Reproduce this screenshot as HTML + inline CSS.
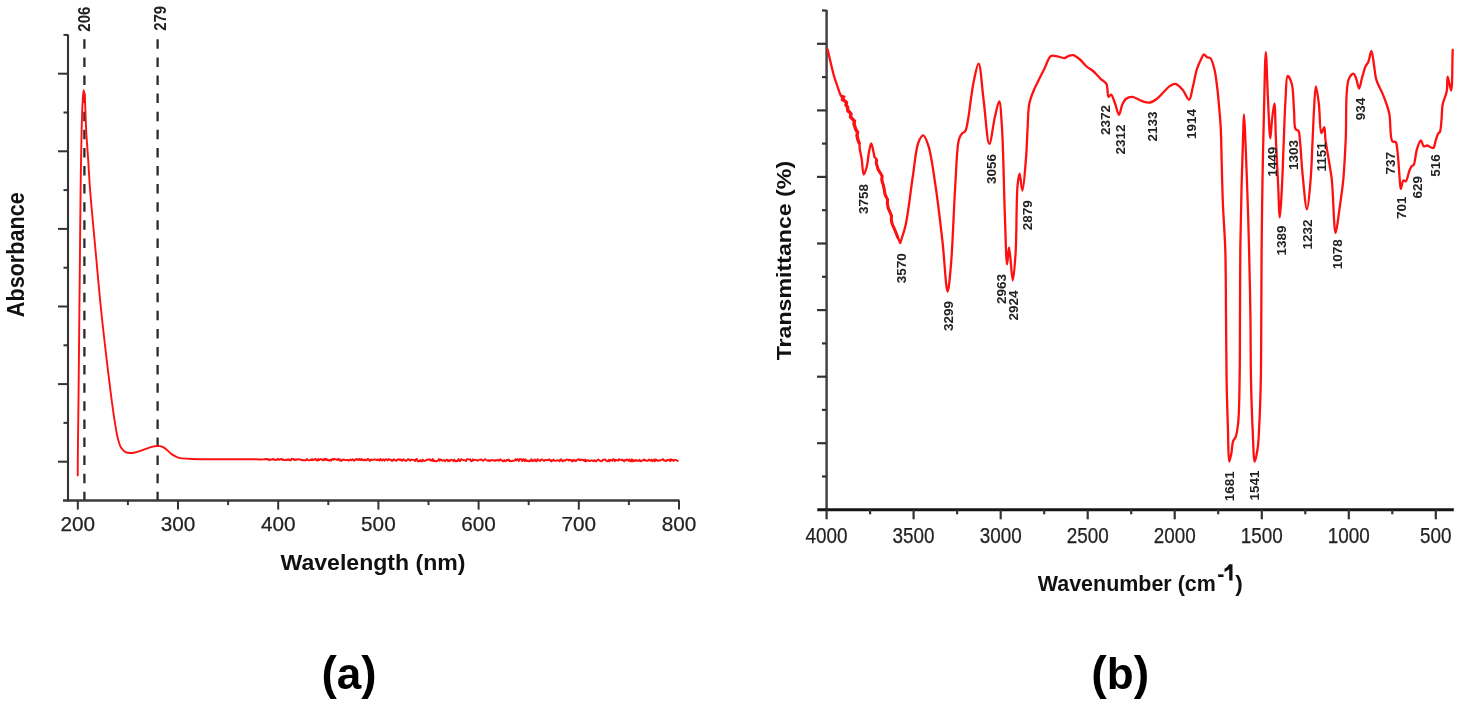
<!DOCTYPE html>
<html><head><meta charset="utf-8"><title>Spectra</title><style>
html,body{margin:0;padding:0;background:#fff;width:1459px;height:706px;overflow:hidden;}
svg{display:block;filter:blur(0.35px);}
text{font-family:"Liberation Sans",sans-serif;}
</style></head><body>
<svg width="1459" height="706" viewBox="0 0 1459 706">
<rect width="1459" height="706" fill="#fff"/>
<line x1="84.4" y1="39.3" x2="84.4" y2="500.6" stroke="#2a2a2a" stroke-width="2.3" stroke-dasharray="9.5 8.6"/>
<line x1="157.6" y1="39.3" x2="157.6" y2="500.6" stroke="#2a2a2a" stroke-width="2.3" stroke-dasharray="9.5 8.6"/>
<line x1="68.0" y1="34.5" x2="68.0" y2="501.6" stroke="#333" stroke-width="2.1"/>
<line x1="63" y1="500.6" x2="679.5" y2="500.6" stroke="#3a3a3a" stroke-width="2.5"/>
<line x1="58" y1="461.7" x2="68.0" y2="461.7" stroke="#333" stroke-width="2"/>
<line x1="63.5" y1="422.9" x2="68.0" y2="422.9" stroke="#333" stroke-width="2"/>
<line x1="58" y1="384.1" x2="68.0" y2="384.1" stroke="#333" stroke-width="2"/>
<line x1="63.5" y1="345.3" x2="68.0" y2="345.3" stroke="#333" stroke-width="2"/>
<line x1="58" y1="306.5" x2="68.0" y2="306.5" stroke="#333" stroke-width="2"/>
<line x1="63.5" y1="267.7" x2="68.0" y2="267.7" stroke="#333" stroke-width="2"/>
<line x1="58" y1="228.9" x2="68.0" y2="228.9" stroke="#333" stroke-width="2"/>
<line x1="63.5" y1="190.1" x2="68.0" y2="190.1" stroke="#333" stroke-width="2"/>
<line x1="58" y1="151.3" x2="68.0" y2="151.3" stroke="#333" stroke-width="2"/>
<line x1="63.5" y1="112.5" x2="68.0" y2="112.5" stroke="#333" stroke-width="2"/>
<line x1="58" y1="73.7" x2="68.0" y2="73.7" stroke="#333" stroke-width="2"/>
<line x1="63.5" y1="34.9" x2="68.0" y2="34.9" stroke="#333" stroke-width="2"/>
<line x1="77.8" y1="500.6" x2="77.8" y2="509.6" stroke="#333" stroke-width="2"/>
<text x="77.8" y="531" font-size="20.6" fill="#222" stroke="#222" stroke-width="0.25" text-anchor="middle" textLength="34.6" lengthAdjust="spacingAndGlyphs">200</text>
<line x1="127.9" y1="500.6" x2="127.9" y2="505.1" stroke="#333" stroke-width="2"/>
<line x1="178" y1="500.6" x2="178" y2="509.6" stroke="#333" stroke-width="2"/>
<text x="178" y="531" font-size="20.6" fill="#222" stroke="#222" stroke-width="0.25" text-anchor="middle" textLength="34.6" lengthAdjust="spacingAndGlyphs">300</text>
<line x1="228.1" y1="500.6" x2="228.1" y2="505.1" stroke="#333" stroke-width="2"/>
<line x1="278.2" y1="500.6" x2="278.2" y2="509.6" stroke="#333" stroke-width="2"/>
<text x="278.2" y="531" font-size="20.6" fill="#222" stroke="#222" stroke-width="0.25" text-anchor="middle" textLength="34.6" lengthAdjust="spacingAndGlyphs">400</text>
<line x1="328.3" y1="500.6" x2="328.3" y2="505.1" stroke="#333" stroke-width="2"/>
<line x1="378.4" y1="500.6" x2="378.4" y2="509.6" stroke="#333" stroke-width="2"/>
<text x="378.4" y="531" font-size="20.6" fill="#222" stroke="#222" stroke-width="0.25" text-anchor="middle" textLength="34.6" lengthAdjust="spacingAndGlyphs">500</text>
<line x1="428.5" y1="500.6" x2="428.5" y2="505.1" stroke="#333" stroke-width="2"/>
<line x1="478.6" y1="500.6" x2="478.6" y2="509.6" stroke="#333" stroke-width="2"/>
<text x="478.6" y="531" font-size="20.6" fill="#222" stroke="#222" stroke-width="0.25" text-anchor="middle" textLength="34.6" lengthAdjust="spacingAndGlyphs">600</text>
<line x1="528.7" y1="500.6" x2="528.7" y2="505.1" stroke="#333" stroke-width="2"/>
<line x1="578.8" y1="500.6" x2="578.8" y2="509.6" stroke="#333" stroke-width="2"/>
<text x="578.8" y="531" font-size="20.6" fill="#222" stroke="#222" stroke-width="0.25" text-anchor="middle" textLength="34.6" lengthAdjust="spacingAndGlyphs">700</text>
<line x1="628.9" y1="500.6" x2="628.9" y2="505.1" stroke="#333" stroke-width="2"/>
<line x1="679" y1="500.6" x2="679" y2="509.6" stroke="#333" stroke-width="2"/>
<text x="679" y="531" font-size="20.6" fill="#222" stroke="#222" stroke-width="0.25" text-anchor="middle" textLength="34.6" lengthAdjust="spacingAndGlyphs">800</text>
<text transform="translate(89.7,19.2) rotate(-90)" font-size="16" font-weight="bold" fill="#222" text-anchor="middle" textLength="25" lengthAdjust="spacingAndGlyphs">206</text>
<text transform="translate(165.7,18.3) rotate(-90)" font-size="16" font-weight="bold" fill="#222" text-anchor="middle" textLength="25" lengthAdjust="spacingAndGlyphs">279</text>
<text transform="translate(23.8,254.7) rotate(-90)" font-size="23" font-weight="bold" fill="#111" text-anchor="middle" textLength="125" lengthAdjust="spacingAndGlyphs">Absorbance</text>
<text x="373" y="570" font-size="22" font-weight="bold" fill="#111" text-anchor="middle" textLength="185" lengthAdjust="spacingAndGlyphs">Wavelength (nm)</text>
<text x="349" y="689" font-size="44" font-weight="bold" fill="#000" text-anchor="middle"><tspan font-size="46">(</tspan>a<tspan font-size="46">)</tspan></text>
<path d="M77.7,475.4C77.8,463.6 77.87,452.16 78,440C78.14,427.07 78.34,414.08 78.5,400C78.68,384.26 78.84,365.74 79,350C79.14,335.92 79.25,324.68 79.4,310C79.58,292.02 79.8,270 80,250C80.2,230 80.33,209.92 80.6,190C80.87,170.25 81.2,146.69 81.6,131C81.87,120.58 82.09,112.45 82.5,105C82.81,99.37 83.1,90.23 83.6,90.2C83.89,90.18 84.33,92.94 84.6,95C85.07,98.6 85.15,104.58 85.4,110C85.69,116.41 85.8,123.44 86.2,131C86.68,139.89 87.56,150.25 88.2,160C88.86,169.91 89.2,178.29 90.1,190C91.37,206.58 93.67,230 95.5,250C97.33,270 99.08,290.45 101.1,310C103.03,328.72 105.46,349.33 107.3,364.9C108.66,376.43 109.77,385.65 111,395C112.07,403.19 113.05,410.67 114.2,418C115.26,424.75 116.24,432.01 117.6,437.4C118.61,441.39 119.41,445.02 121,447.6C122.23,449.59 123.75,451.21 125.5,452.1C127.17,452.95 129.22,453.05 131.2,453C133.37,452.95 135.47,452.3 138,451.6C141.32,450.68 146.33,448.5 149.3,447.6C151.19,447.03 152.45,446.68 154,446.4C155.48,446.13 156.86,445.76 158.4,445.9C160.17,446.06 162.08,446.55 164,447.6C166.57,449 169.33,452.64 172,454.4C174.27,455.9 176.23,457.06 178.8,457.8C181.79,458.66 185.16,458.56 189,458.8C193.94,459.11 199.85,459.22 206,459.3C213.31,459.39 222,459.23 230,459.2 L232,459.1 L236,459.2 L240,459.2 L244,459.3 L248,459.3 L252,459.2 L256,459.2 L260,459.5 L264,459.3 L268,459 L268.9,460.2 L269.7,459.4 L270.6,459.9 L271.4,459.4 L272.3,459.6 L273.1,458.8 L274,459.6 L274.8,460 L275.7,459.5 L276.5,459.8 L277.4,459.7 L278.2,458.7 L279.1,459.9 L279.9,459.6 L280.8,459.1 L281.6,458.7 L282.5,460.1 L283.3,459.4 L284.2,459.8 L285,460.1 L285.9,459.8 L286.7,460.2 L287.6,459.3 L288.4,460 L289.3,459.4 L290.1,460.3 L291,460.2 L291.8,458.8 L292.7,458.9 L293.5,459 L294.4,460.3 L295.2,459.4 L296.1,459.8 L296.9,459.2 L297.8,459.6 L298.6,459.3 L299.5,459.3 L300.3,459.7 L301.2,459.7 L302,460.3 L302.9,459.9 L303.7,460.3 L304.6,460.2 L305.4,460.5 L306.3,459.9 L307.1,459 L308,460.2 L308.8,460.4 L309.7,460.3 L310.5,459.7 L311.4,460 L312.2,459.1 L313.1,460.2 L313.9,459.8 L314.8,459.2 L315.6,458.8 L316.5,460.3 L317.3,460.6 L318.2,458.9 L319,460.2 L319.9,459.5 L320.7,459 L321.6,459.3 L322.4,460.2 L323.3,460.4 L324.1,458.8 L325,459.9 L325.8,458.8 L326.7,460.1 L327.5,459.4 L328.4,460.4 L329.2,460.6 L330.1,459.7 L330.9,460.7 L331.8,459.3 L332.6,458.9 L333.5,459.9 L334.3,458.8 L335.2,459.1 L336,459.5 L336.9,460 L337.7,459.1 L338.6,458.8 L339.4,460.5 L340.3,459.4 L341.1,460.7 L342,460.6 L342.8,459.5 L343.7,459.7 L344.5,459.8 L345.4,460.1 L346.2,460 L347.1,459.9 L347.9,460 L348.8,460.7 L349.6,459.8 L350.5,459.7 L351.3,460.3 L352.2,459.3 L353,459.4 L353.9,460.8 L354.7,459.9 L355.6,459.9 L356.4,458.8 L357.3,459.7 L358.1,460 L359,458.8 L359.8,460.1 L360.7,460.1 L361.5,458.9 L362.4,460.1 L363.2,459.8 L364.1,460.3 L364.9,459.6 L365.8,460.3 L366.6,460.4 L367.5,458.9 L368.3,458.9 L369.2,460.3 L370,460.9 L370.9,459.4 L371.7,459.8 L372.6,460.1 L373.4,459.5 L374.3,459.6 L375.1,459.5 L376,459.6 L376.8,460.1 L377.7,459.5 L378.5,459.7 L379.4,460.5 L380.2,458.9 L381.1,460.1 L381.9,460.5 L382.8,459.5 L383.6,459.4 L384.5,460.7 L385.3,459.4 L386.2,459.3 L387,459.8 L387.9,460.4 L388.7,459.1 L389.6,459.6 L390.4,459.6 L391.3,460.8 L392.1,459.9 L393,460.8 L393.8,459.3 L394.7,459.6 L395.5,460.4 L396.4,460.9 L397.2,459.9 L398.1,459.4 L398.9,459.2 L399.8,460.1 L400.6,459.3 L401.5,460.8 L402.3,460.8 L403.2,459.3 L404,459.6 L404.9,460.8 L405.7,460.4 L406.6,460.8 L407.4,459.7 L408.3,459.2 L409.1,459.6 L410,460.8 L410.8,459.6 L411.7,459.7 L412.5,459.9 L413.4,459.9 L414.2,459.9 L415.1,461.1 L415.9,459.3 L416.8,458.9 L417.6,461.2 L418.5,461.1 L419.3,461.3 L420.2,460 L421,461.2 L421.9,461.2 L422.7,459.5 L423.6,460.8 L424.4,461 L425.3,460.6 L426.1,460.2 L427,459.7 L427.8,459.8 L428.7,459.5 L429.5,459.2 L430.4,460.4 L431.2,459.7 L432.1,461 L432.9,459.1 L433.8,461.2 L434.6,460.7 L435.5,461.2 L436.3,461.2 L437.2,461.2 L438,460.4 L438.9,459.1 L439.7,460.8 L440.6,459.5 L441.4,459.8 L442.3,460.7 L443.1,460.3 L444,460.1 L444.8,461.3 L445.7,460.5 L446.5,459.9 L447.4,459.7 L448.2,461.2 L449.1,460.2 L449.9,461 L450.8,459.9 L451.6,459.6 L452.5,460.4 L453.3,461.1 L454.2,459.5 L455,461 L455.9,461.3 L456.7,461 L457.6,461.1 L458.4,459.1 L459.3,460.6 L460.1,461.2 L461,459.2 L461.8,459.8 L462.7,459.7 L463.5,460.4 L464.4,460.1 L465.2,460.2 L466.1,461 L466.9,459.1 L467.8,459.2 L468.6,459.4 L469.5,459.4 L470.3,459.3 L471.2,461.4 L472,461.2 L472.9,459.3 L473.7,460.3 L474.6,459.9 L475.4,459.9 L476.3,459.9 L477.1,460.7 L478,460.5 L478.8,460 L479.7,459.6 L480.5,459.9 L481.4,459.4 L482.2,460.4 L483.1,460.8 L483.9,460 L484.8,459.3 L485.6,459.5 L486.5,460 L487.3,460.6 L488.2,461 L489,460 L489.9,461 L490.7,460.6 L491.6,460.1 L492.4,460 L493.3,460.3 L494.1,460.8 L495,460.1 L495.8,460.8 L496.7,460.2 L497.5,459.7 L498.4,460.4 L499.2,460.8 L500.1,459.3 L500.9,460.1 L501.8,460.1 L502.6,461.2 L503.5,461.3 L504.3,460 L505.2,461.3 L506,461 L506.9,459.7 L507.7,460.2 L508.6,459.4 L509.4,461.1 L510.3,460.7 L511.1,461.2 L512,461 L512.8,460.7 L513.7,460.9 L514.5,460.5 L515.4,459.3 L516.2,460.5 L517.1,459.1 L517.9,459.4 L518.8,461 L519.6,459.2 L520.5,459.3 L521.3,459.3 L522.2,461.2 L523,459.5 L523.9,459.2 L524.7,461.1 L525.6,459.4 L526.4,461.1 L527.3,460.7 L528.1,461.1 L529,461.4 L529.8,460.5 L530.7,461 L531.5,459.2 L532.4,460.9 L533.2,460.3 L534.1,460.8 L534.9,459.4 L535.8,460.9 L536.6,461.3 L537.5,459.2 L538.3,459.9 L539.2,460.5 L540,461.1 L540.9,459.7 L541.7,459.5 L542.6,459.7 L543.4,460.6 L544.3,460.9 L545.1,460 L546,460 L546.8,460.1 L547.7,459.9 L548.5,460.1 L549.4,459.3 L550.2,460.3 L551.1,461.4 L551.9,460.1 L552.8,460.9 L553.6,459.5 L554.5,460.8 L555.3,460.9 L556.2,460.7 L557,460.3 L557.9,460.3 L558.7,460.6 L559.6,461.3 L560.4,459.5 L561.3,459.3 L562.1,460.9 L563,461.3 L563.8,460.3 L564.7,460.2 L565.5,460.8 L566.4,459.5 L567.2,459.7 L568.1,459.6 L568.9,460.5 L569.8,459.9 L570.6,459.7 L571.5,460.8 L572.3,461.4 L573.2,459.8 L574,460.8 L574.9,460.1 L575.7,461.1 L576.6,460.5 L577.4,459.7 L578.3,459.6 L579.1,459.2 L580,460.3 L580.8,460 L581.7,459.5 L582.5,460 L583.4,459.9 L584.2,461 L585.1,459.4 L585.9,461.5 L586.8,460.3 L587.6,460.5 L588.5,460.2 L589.3,461.1 L590.2,461.1 L591,460.4 L591.9,460.3 L592.7,460.8 L593.6,461.2 L594.4,460.1 L595.3,460.9 L596.1,461.4 L597,460.2 L597.8,459.7 L598.7,459.7 L599.5,460.8 L600.4,460.7 L601.2,461.4 L602.1,461.1 L602.9,459.7 L603.8,459.6 L604.6,459.7 L605.5,459.5 L606.3,460.8 L607.2,461.2 L608,461.3 L608.9,459.7 L609.7,461.2 L610.6,459.9 L611.4,460.1 L612.3,460.8 L613.1,459.3 L614,459.3 L614.8,461.1 L615.7,459.8 L616.5,460 L617.4,460.5 L618.2,460.7 L619.1,459.1 L619.9,459.9 L620.8,460.1 L621.6,460.3 L622.5,459.6 L623.3,460.5 L624.2,461.4 L625,460 L625.9,460.4 L626.7,459.4 L627.6,459.8 L628.4,460.7 L629.3,459.4 L630.1,461.2 L631,461.3 L631.8,459.3 L632.7,461.4 L633.5,460 L634.4,461 L635.2,460.9 L636.1,459.8 L636.9,460.7 L637.8,460.7 L638.6,461 L639.5,459.7 L640.3,460.9 L641.2,461.4 L642,460.7 L642.9,460.4 L643.7,459.4 L644.6,460.3 L645.4,459.9 L646.3,460.8 L647.1,460.7 L648,460.5 L648.8,459.5 L649.7,460.6 L650.5,460.6 L651.4,459.5 L652.2,461.2 L653.1,460.7 L653.9,459.4 L654.8,461.3 L655.6,459.4 L656.5,459.9 L657.3,460.8 L658.2,460.5 L659,460.4 L659.9,460.7 L660.7,460.2 L661.6,459.8 L662.4,459.5 L663.3,459.3 L664.1,460.8 L665,460.9 L665.8,460.4 L666.7,460.9 L667.5,460 L668.4,459.7 L669.2,460 L670.1,461.2 L670.9,459.2 L671.8,460.3 L672.6,459.7 L673.5,460.9 L674.3,459.9 L675.2,459.9 L676,460.1 L676.9,460.4 L677.7,461" fill="none" stroke="#ff1010" stroke-width="1.9" stroke-linejoin="round" stroke-linecap="round"/>
<line x1="826.6" y1="10" x2="826.6" y2="510.8" stroke="#444" stroke-width="2.5"/>
<line x1="817.3" y1="509.8" x2="1453.8" y2="509.8" stroke="#151515" stroke-width="3"/>
<line x1="822" y1="476.5" x2="826.6" y2="476.5" stroke="#333" stroke-width="2.2"/>
<line x1="817" y1="443.2" x2="826.6" y2="443.2" stroke="#333" stroke-width="2.2"/>
<line x1="822" y1="409.9" x2="826.6" y2="409.9" stroke="#333" stroke-width="2.2"/>
<line x1="817" y1="376.7" x2="826.6" y2="376.7" stroke="#333" stroke-width="2.2"/>
<line x1="822" y1="343.4" x2="826.6" y2="343.4" stroke="#333" stroke-width="2.2"/>
<line x1="817" y1="310.1" x2="826.6" y2="310.1" stroke="#333" stroke-width="2.2"/>
<line x1="822" y1="276.8" x2="826.6" y2="276.8" stroke="#333" stroke-width="2.2"/>
<line x1="817" y1="243.5" x2="826.6" y2="243.5" stroke="#333" stroke-width="2.2"/>
<line x1="822" y1="210.2" x2="826.6" y2="210.2" stroke="#333" stroke-width="2.2"/>
<line x1="817" y1="176.9" x2="826.6" y2="176.9" stroke="#333" stroke-width="2.2"/>
<line x1="822" y1="143.6" x2="826.6" y2="143.6" stroke="#333" stroke-width="2.2"/>
<line x1="817" y1="110.4" x2="826.6" y2="110.4" stroke="#333" stroke-width="2.2"/>
<line x1="822" y1="77.1" x2="826.6" y2="77.1" stroke="#333" stroke-width="2.2"/>
<line x1="817" y1="43.8" x2="826.6" y2="43.8" stroke="#333" stroke-width="2.2"/>
<line x1="822" y1="10.5" x2="826.6" y2="10.5" stroke="#333" stroke-width="2.2"/>
<line x1="826.6" y1="509.8" x2="826.6" y2="519.3" stroke="#333" stroke-width="2.2"/>
<text x="826.6" y="542.8" font-size="21.8" fill="#222" stroke="#222" stroke-width="0.25" text-anchor="middle" textLength="42.0" lengthAdjust="spacingAndGlyphs">4000</text>
<line x1="870.1" y1="509.8" x2="870.1" y2="514.3" stroke="#333" stroke-width="2.2"/>
<line x1="913.6" y1="509.8" x2="913.6" y2="519.3" stroke="#333" stroke-width="2.2"/>
<text x="913.6" y="542.8" font-size="21.8" fill="#222" stroke="#222" stroke-width="0.25" text-anchor="middle" textLength="42.0" lengthAdjust="spacingAndGlyphs">3500</text>
<line x1="957.1" y1="509.8" x2="957.1" y2="514.3" stroke="#333" stroke-width="2.2"/>
<line x1="1000.7" y1="509.8" x2="1000.7" y2="519.3" stroke="#333" stroke-width="2.2"/>
<text x="1000.7" y="542.8" font-size="21.8" fill="#222" stroke="#222" stroke-width="0.25" text-anchor="middle" textLength="42.0" lengthAdjust="spacingAndGlyphs">3000</text>
<line x1="1044.2" y1="509.8" x2="1044.2" y2="514.3" stroke="#333" stroke-width="2.2"/>
<line x1="1087.7" y1="509.8" x2="1087.7" y2="519.3" stroke="#333" stroke-width="2.2"/>
<text x="1087.7" y="542.8" font-size="21.8" fill="#222" stroke="#222" stroke-width="0.25" text-anchor="middle" textLength="42.0" lengthAdjust="spacingAndGlyphs">2500</text>
<line x1="1131.2" y1="509.8" x2="1131.2" y2="514.3" stroke="#333" stroke-width="2.2"/>
<line x1="1174.7" y1="509.8" x2="1174.7" y2="519.3" stroke="#333" stroke-width="2.2"/>
<text x="1174.7" y="542.8" font-size="21.8" fill="#222" stroke="#222" stroke-width="0.25" text-anchor="middle" textLength="42.0" lengthAdjust="spacingAndGlyphs">2000</text>
<line x1="1218.2" y1="509.8" x2="1218.2" y2="514.3" stroke="#333" stroke-width="2.2"/>
<line x1="1261.8" y1="509.8" x2="1261.8" y2="519.3" stroke="#333" stroke-width="2.2"/>
<text x="1261.8" y="542.8" font-size="21.8" fill="#222" stroke="#222" stroke-width="0.25" text-anchor="middle" textLength="42.0" lengthAdjust="spacingAndGlyphs">1500</text>
<line x1="1305.3" y1="509.8" x2="1305.3" y2="514.3" stroke="#333" stroke-width="2.2"/>
<line x1="1348.8" y1="509.8" x2="1348.8" y2="519.3" stroke="#333" stroke-width="2.2"/>
<text x="1348.8" y="542.8" font-size="21.8" fill="#222" stroke="#222" stroke-width="0.25" text-anchor="middle" textLength="42.0" lengthAdjust="spacingAndGlyphs">1000</text>
<line x1="1392.3" y1="509.8" x2="1392.3" y2="514.3" stroke="#333" stroke-width="2.2"/>
<line x1="1435.8" y1="509.8" x2="1435.8" y2="519.3" stroke="#333" stroke-width="2.2"/>
<text x="1435.8" y="542.8" font-size="21.8" fill="#222" stroke="#222" stroke-width="0.25" text-anchor="middle" textLength="31.5" lengthAdjust="spacingAndGlyphs">500</text>
<text transform="translate(791.4,260.6) rotate(-90)" font-size="19.6" font-weight="bold" fill="#111" text-anchor="middle" textLength="199.5" lengthAdjust="spacingAndGlyphs">Transmittance (%)</text>
<text x="1037.8" y="590.8" font-size="22" font-weight="bold" fill="#111" textLength="178" lengthAdjust="spacingAndGlyphs">Wavenumber (cm</text>
<text x="1217.3" y="580.8" font-size="21.5" font-weight="bold" fill="#111">-</text>
<path d="M1229.2,564.3 h3.3 v16.2 h-3.3 v-11.3 q-2.1,1.9 -4.7,2.7 v-3.1 q2.9,-1.1 4.7,-4.5 z" fill="#111"/>
<text x="1235.3" y="591" font-size="22.5" font-weight="bold" fill="#111">)</text>
<text x="1120.3" y="689" font-size="44" font-weight="bold" fill="#000" text-anchor="middle"><tspan font-size="46.5">(</tspan>b<tspan font-size="46.5">)</tspan></text>
<path d="M827.6,49.5C828.57,53.67 829.48,57.74 830.5,62C831.57,66.47 832.71,71.6 833.9,75.7C834.89,79.12 835.98,81.96 837,85C837.98,87.92 838.93,90.73 839.9,93.6 L841,96 L843.5,97 L842.5,99.5 L845,101 L846.5,102.5 L846,105 L847.5,107 L848,111 L849.5,112 L851,114 L850.5,117 L852.5,119 L854.5,121 L854,124 L855,127 L856,130 L857.5,132 L857,136 L858,140 L859.5,144 L859.7,149.1C860.37,152.4 861.09,155.32 861.7,159C862.46,163.58 862.61,174.36 863.7,174.5C864.48,174.6 865.89,169.98 866.7,167C867.82,162.91 868.12,156.28 869,152C869.67,148.75 870.45,143.5 871.2,143.5C871.95,143.5 872.92,149.53 873.5,152C873.94,153.88 874.17,155.33 874.5,157 L876.7,159.5 L876.2,163 L878.2,169.6 L880,172.5 L882.1,176 L881.8,180 L883.7,186.7 L885.2,195 L887.6,199.5 L887.3,203 L888.3,208.5 L890,212 L891.5,216 L891.2,219.5 L892.2,224 L894,228 L896.1,233 L898,238 L900.3,243C902.1,236.9 904.02,232.32 905.7,224.7C908.38,212.52 910.51,191.16 912.8,176.5C914.72,164.17 915.64,149.44 918.4,142.5C919.78,139.04 921.65,135.31 923.2,135.4C924.97,135.51 926.76,140.74 928.3,145.3C931.24,153.98 933.21,170.56 935.4,185C938.01,202.19 940.42,223.4 942.5,241.7C944.45,258.83 946,291.48 947.6,291.5C948.79,291.51 949.98,275.83 951,264.4C952.75,244.9 953.78,207.77 955.3,185C956.45,167.79 956.66,147.75 958.9,139.7C959.77,136.56 960.75,134.97 962,133.5C962.94,132.39 964.33,132.49 965.2,131.2C966.71,128.97 967.16,124.15 968,119.8C969.09,114.13 969.8,106.61 970.8,100C971.8,93.35 972.61,86.29 974,80C975.27,74.25 977.23,63.61 978.6,63.7C980.62,63.84 981.9,87.32 983.6,100C985.46,113.93 987.14,143.82 989.3,143.9C991,143.96 993.03,124.73 994.9,117C996.33,111.07 998.08,101.31 999.2,101.4C1000.65,101.52 1001.21,116.81 1002,128.3C1003.39,148.68 1003.84,188.55 1004.8,213.3C1005.55,232.49 1006.09,264.36 1007.1,264.4C1007.68,264.42 1008.34,247.4 1009.1,247.4C1010.16,247.4 1011.68,280.51 1012.8,280.5C1013.82,280.49 1014.86,264.22 1015.6,253C1016.75,235.39 1016.26,198.1 1017.6,185C1018.15,179.62 1018.89,173.7 1019.6,173.7C1020.47,173.71 1021.49,190.72 1022.4,190.7C1023.68,190.66 1025.24,167.36 1026.1,156.7C1026.86,147.27 1026.95,138.9 1027.5,130C1028.05,121.1 1027.87,110.75 1029.4,103.3C1030.56,97.68 1032.67,93.08 1034.4,88.9C1035.79,85.53 1037.15,83.15 1038.7,80C1040.47,76.4 1042.51,72.4 1044.5,68.5C1046.57,64.44 1048.34,57.66 1050.9,56.1C1052.45,55.16 1054.09,55.89 1056,56.1C1058.51,56.37 1062.27,58.3 1064.6,58C1066.33,57.78 1067.42,56.28 1068.9,55.8C1070.32,55.34 1071.75,54.77 1073.3,55.1C1075.38,55.55 1077.93,57.74 1080,59.5C1082.18,61.35 1083.82,64.07 1086,66C1088.15,67.9 1091.05,69.35 1093,71C1094.58,72.34 1095.71,73.66 1097,75C1098.25,76.3 1099.21,77.56 1100.6,78.9C1102.26,80.51 1105.07,81.52 1106.4,83.9C1108.14,87.01 1107.16,96.42 1108.5,96.9C1109.17,97.14 1110.18,94.53 1111,94.7C1112.38,94.99 1113.74,100.19 1115,103.3C1116.43,106.82 1117.76,114.82 1119,114.8C1120.15,114.79 1120.9,107.62 1122.2,104.8C1123.25,102.53 1124.12,100.32 1125.8,99C1127.48,97.68 1129.92,96.79 1132.3,96.9C1135.3,97.04 1139.19,100.24 1142.3,101.2C1144.85,101.99 1147.15,102.92 1149.5,102.6C1151.96,102.26 1154.43,100.64 1156.7,99C1159.26,97.16 1161.62,94.06 1163.9,91.8C1165.93,89.78 1167.63,87.44 1169.7,86.1C1171.5,84.94 1173.48,83.6 1175.4,83.9C1177.77,84.27 1180.43,87.3 1182.6,89.7C1185.06,92.43 1187.43,99.94 1189.1,99.7C1190.83,99.45 1191.51,92.02 1192.7,87.5C1194.16,81.95 1195.3,74.02 1197,68.8C1198.28,64.85 1199.96,61.32 1201.3,58.7C1202.21,56.93 1202.89,54.55 1203.9,54.4C1204.84,54.26 1205.95,56.71 1207.1,57.3C1208.1,57.82 1209.36,57.18 1210.3,58C1212.07,59.54 1213.22,64.65 1214.3,68.8C1215.68,74.12 1216.38,81.03 1217.2,87.5C1218.07,94.43 1218.69,102.03 1219.3,109.1C1219.89,115.92 1220.43,121.84 1220.8,129.2C1221.25,138.15 1221.29,148.06 1221.6,159C1221.97,172.42 1222.29,188.73 1222.9,203.8C1223.52,219.16 1224.78,233.52 1225.3,250.3C1225.92,270.08 1225.78,293.41 1226,315C1226.22,336.64 1226.23,359.65 1226.6,380C1226.93,398.03 1227.5,416.17 1228,431C1228.38,442.47 1228.17,461.39 1229.2,461.5C1229.75,461.56 1230.78,456.09 1231.4,453C1232.12,449.38 1232.05,443.98 1233.1,441.1C1233.77,439.25 1234.97,438.81 1235.7,436.9C1236.95,433.61 1237.57,428.6 1238.2,422.5C1239.27,412.1 1239.29,395.67 1239.6,380C1239.98,360.63 1239.88,336.67 1240,315C1240.12,293.33 1240.04,271.23 1240.3,250C1240.55,229.6 1241.02,209.09 1241.5,190C1241.94,172.57 1242.55,153.89 1243,140C1243.32,130.08 1243.48,114.5 1243.9,114.5C1244.55,114.5 1245.87,152.93 1246.7,174C1247.64,197.85 1248.47,225.91 1249.1,250.3C1249.68,272.75 1250.08,293.41 1250.4,315C1250.72,336.64 1250.57,359.65 1251,380C1251.38,398.03 1251.97,416.18 1252.7,431C1253.27,442.47 1253.54,461.41 1254.7,461.5C1255.48,461.56 1256.95,453.24 1257.7,448C1258.72,440.87 1258.92,432.08 1259.4,422.5C1260.02,410.14 1260.48,395.67 1260.8,380C1261.19,360.63 1261.17,336.64 1261.3,315C1261.43,293.41 1261.41,272.31 1261.6,250.3C1261.8,227.35 1262.1,203.41 1262.5,180C1262.9,156.64 1263.42,132.22 1264,110C1264.53,89.81 1265.09,52.21 1265.8,52.2C1266.44,52.2 1267.2,84.95 1268,100C1268.71,113.48 1269.5,138.29 1270.3,138.3C1270.85,138.31 1271.29,125.94 1272,120C1272.67,114.32 1273.79,103.37 1274.4,103.4C1275.31,103.45 1275.33,127.55 1275.9,140C1276.49,152.97 1277.24,166.64 1277.9,179.7C1278.54,192.43 1279.09,217.39 1279.8,217.4C1280.41,217.41 1281.2,200.2 1281.8,189.6C1282.59,175.45 1283.15,155.64 1283.8,140C1284.38,125.95 1284.72,111.63 1285.5,100C1286.11,90.98 1286.02,76.34 1287.7,76C1288.7,75.8 1290.69,80.1 1291.7,83.5C1293.48,89.52 1293.31,101.89 1294,110C1294.59,116.89 1293.83,126.1 1295.6,129.1C1296.37,130.4 1297.88,129.96 1298.6,131.1C1299.74,132.89 1299.46,136.03 1299.9,140C1300.79,147.92 1301.49,163.99 1302.7,175.7C1303.87,187.11 1305.65,209.4 1307,209.4C1308.27,209.4 1309.69,190.33 1310.6,179.7C1311.65,167.44 1312,152.31 1312.6,140C1313.12,129.3 1313.4,119.39 1314,110C1314.53,101.68 1315,86.54 1315.9,86.5C1316.67,86.47 1317.97,96.96 1318.8,103.4C1319.9,111.89 1319.78,132.81 1321.4,133.1C1322.17,133.24 1323.53,126.99 1324.2,127.1C1325.14,127.26 1324.85,135.06 1325.5,140C1326.39,146.74 1328.28,156.66 1329.4,163.8C1330.32,169.63 1331.04,172.82 1331.8,179.7C1333.19,192.23 1333.96,232.93 1335.6,233C1336.7,233.05 1338.18,217.73 1339.4,209.4C1340.76,200.08 1342.28,190.34 1343.3,179.7C1344.47,167.44 1344.91,154.62 1345.7,140C1346.68,121.97 1344.98,89.02 1348.6,79.6C1349.89,76.23 1352.2,73.49 1353.5,73.6C1354.55,73.69 1355.22,76.16 1356,78C1357.15,80.7 1358.1,88.51 1359.1,88.5C1360.1,88.49 1360.97,81.56 1362,78C1363.07,74.3 1364.1,69.65 1365.4,66.7C1366.32,64.63 1367.52,63.76 1368.4,61.7C1369.63,58.83 1370.51,50.76 1371.4,50.8C1372.41,50.84 1373.19,60.23 1374,65C1374.82,69.83 1374.86,74.73 1376.3,79.6C1377.85,84.86 1381.19,89.91 1383.3,95.4C1385.51,101.13 1387.74,106.58 1389.2,113.3C1390.99,121.51 1389.65,138.31 1392.3,141.3C1393.23,142.35 1394.87,141.24 1395.7,142.1C1397.01,143.46 1396.89,146.99 1397.4,150.6C1398.27,156.8 1398.85,169.05 1399.5,176.1C1399.96,181.1 1400.03,188.82 1400.8,188.9C1401.44,188.96 1402.1,181.08 1403.4,180.4C1404.11,180.03 1405.16,181.58 1405.9,181.2C1407.4,180.44 1408.14,173.78 1409.3,171C1410.15,168.97 1410.96,166.82 1411.9,165.9C1412.44,165.38 1413.08,165.76 1413.6,165.1C1415.14,163.15 1415.53,153.37 1417,148.9C1418.11,145.54 1419.68,140.41 1420.9,140.4C1421.93,140.39 1422.49,145.8 1423.8,146.4C1424.75,146.84 1425.93,145.4 1427.2,145.5C1428.92,145.63 1431.7,148.72 1433.1,148.1C1434.68,147.41 1434.83,142.88 1435.7,140.4C1436.53,138.06 1437.27,135.05 1438.2,133.6C1438.74,132.76 1439.43,132.84 1439.9,131.9C1440.94,129.8 1441.05,124.25 1441.5,120C1442.01,115.14 1441.76,109.22 1442.7,104.3C1443.57,99.76 1445.86,95.98 1446.7,91.5C1447.58,86.77 1446.95,76.66 1447.7,76.6C1448.43,76.54 1450.27,90.58 1451.1,90.5C1452.5,90.36 1452.17,63.37 1452.7,49.8" fill="none" stroke="#ff1010" stroke-width="2.3" stroke-linejoin="round" stroke-linecap="round"/>
<polyline points="841,96 843.5,97 842.5,99.5 845,101 846.5,102.5 846,105 847.5,107 848,111 849.5,112 851,114 850.5,117 852.5,119 854.5,121 854,124 855,127 856,130 857.5,132 857,136 858,140 859.5,144" fill="none" stroke="#ff1010" stroke-width="3.4" stroke-linejoin="miter"/>
<polyline points="876.7,159.5 876.2,163 878.2,169.6 880,172.5 882.1,176 881.8,180 883.7,186.7 885.2,195 887.6,199.5 887.3,203 888.3,208.5 890,212 891.5,216 891.2,219.5 892.2,224 894,228 896.1,233 898,238" fill="none" stroke="#ff1010" stroke-width="3.0" stroke-linejoin="miter"/>
<text transform="translate(868.2,199.1) rotate(-90)" font-size="13.5" font-weight="bold" fill="#222" text-anchor="middle">3758</text>
<text transform="translate(906.4,268.3) rotate(-90)" font-size="13.5" font-weight="bold" fill="#222" text-anchor="middle">3570</text>
<text transform="translate(995.8,169.1) rotate(-90)" font-size="13.5" font-weight="bold" fill="#222" text-anchor="middle">3056</text>
<text transform="translate(953.3,316.0) rotate(-90)" font-size="13.5" font-weight="bold" fill="#222" text-anchor="middle">3299</text>
<text transform="translate(1006.1,288.9) rotate(-90)" font-size="13.5" font-weight="bold" fill="#222" text-anchor="middle">2963</text>
<text transform="translate(1018.2,305.4) rotate(-90)" font-size="13.5" font-weight="bold" fill="#222" text-anchor="middle">2924</text>
<text transform="translate(1032.3,215.3) rotate(-90)" font-size="13.5" font-weight="bold" fill="#222" text-anchor="middle">2879</text>
<text transform="translate(1110.0,119.9) rotate(-90)" font-size="13.5" font-weight="bold" fill="#222" text-anchor="middle">2372</text>
<text transform="translate(1124.9,139.6) rotate(-90)" font-size="13.5" font-weight="bold" fill="#222" text-anchor="middle">2312</text>
<text transform="translate(1157.1,126.4) rotate(-90)" font-size="13.5" font-weight="bold" fill="#222" text-anchor="middle">2133</text>
<text transform="translate(1195.9,123.9) rotate(-90)" font-size="13.5" font-weight="bold" fill="#222" text-anchor="middle">1914</text>
<text transform="translate(1234.1,486.2) rotate(-90)" font-size="13.5" font-weight="bold" fill="#222" text-anchor="middle">1681</text>
<text transform="translate(1258.9,485.4) rotate(-90)" font-size="13.5" font-weight="bold" fill="#222" text-anchor="middle">1541</text>
<text transform="translate(1276.6,161.8) rotate(-90)" font-size="13.5" font-weight="bold" fill="#222" text-anchor="middle">1449</text>
<text transform="translate(1286.0,240.4) rotate(-90)" font-size="13.5" font-weight="bold" fill="#222" text-anchor="middle">1389</text>
<text transform="translate(1298.0,154.9) rotate(-90)" font-size="13.5" font-weight="bold" fill="#222" text-anchor="middle">1303</text>
<text transform="translate(1312.2,234.4) rotate(-90)" font-size="13.5" font-weight="bold" fill="#222" text-anchor="middle">1232</text>
<text transform="translate(1326.2,156.8) rotate(-90)" font-size="13.5" font-weight="bold" fill="#222" text-anchor="middle">1151</text>
<text transform="translate(1341.5,254.2) rotate(-90)" font-size="13.5" font-weight="bold" fill="#222" text-anchor="middle">1078</text>
<text transform="translate(1365.3,109.1) rotate(-90)" font-size="13.5" font-weight="bold" fill="#222" text-anchor="middle">934</text>
<text transform="translate(1395.2,163.2) rotate(-90)" font-size="13.5" font-weight="bold" fill="#222" text-anchor="middle">737</text>
<text transform="translate(1405.9,207.7) rotate(-90)" font-size="13.5" font-weight="bold" fill="#222" text-anchor="middle">701</text>
<text transform="translate(1421.8,187.2) rotate(-90)" font-size="13.5" font-weight="bold" fill="#222" text-anchor="middle">629</text>
<text transform="translate(1440.2,165.6) rotate(-90)" font-size="13.5" font-weight="bold" fill="#222" text-anchor="middle">516</text>
</svg>
</body></html>
